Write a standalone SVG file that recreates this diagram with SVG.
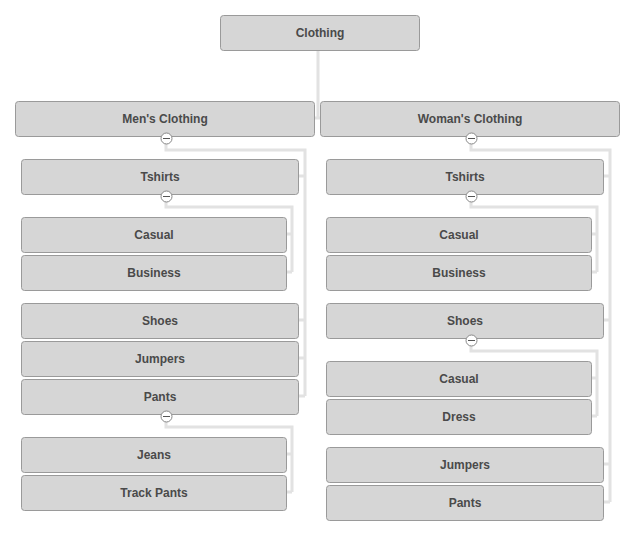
<svg xmlns="http://www.w3.org/2000/svg" width="638" height="541" viewBox="0 0 638 541">
<style>
.n rect{fill:#d6d6d6;stroke:#9a9a9a;stroke-width:1}
.n text{font-family:"Liberation Sans",Arial,sans-serif;font-size:12px;font-weight:bold;fill:#4a4a4a;text-anchor:middle}
.c path{fill:none;stroke:#e2e2e2;stroke-width:3}
.t circle{fill:#fff;stroke:#888;stroke-width:1}
.t path{stroke:#555;stroke-width:1}
</style>
<rect width="638" height="541" fill="#fff"/>
<g class="c">
<path d="M318,50V118H314M318,118H320"/>
<path d="M166,138V150H305V396M298,176H305M298,320H305M298,358H305M298,396H305"/>
<path d="M166,196V207H292V272M286,234H292M286,272H292"/>
<path d="M166,416V427H292V492M286,454H292M286,492H292"/>
<path d="M471,138V150H610V502M603,176H610M603,320H610M603,464H610M603,502H610"/>
<path d="M471,196V207H597V272M591,234H597M591,272H597"/>
<path d="M471,340V351H597V416M591,378H597M591,416H597"/>
</g>
<g class="n" id="clothing"><rect x="220.5" y="15.5" width="199" height="35" rx="3"/><text x="320" y="37">Clothing</text></g>
<g class="n" id="mens"><rect x="15.5" y="101.5" width="299" height="35" rx="3"/><text x="165" y="123">Men's Clothing</text></g>
<g class="n" id="womens"><rect x="320.5" y="101.5" width="299" height="35" rx="3"/><text x="470" y="123">Woman's Clothing</text></g>
<g class="n" id="m-tshirts"><rect x="21.5" y="159.5" width="277" height="35" rx="3"/><text x="160" y="181">Tshirts</text></g>
<g class="n" id="m-casual"><rect x="21.5" y="217.5" width="265" height="35" rx="3"/><text x="154" y="239">Casual</text></g>
<g class="n" id="m-business"><rect x="21.5" y="255.5" width="265" height="35" rx="3"/><text x="154" y="277">Business</text></g>
<g class="n" id="m-shoes"><rect x="21.5" y="303.5" width="277" height="35" rx="3"/><text x="160" y="325">Shoes</text></g>
<g class="n" id="m-jumpers"><rect x="21.5" y="341.5" width="277" height="35" rx="3"/><text x="160" y="363">Jumpers</text></g>
<g class="n" id="m-pants"><rect x="21.5" y="379.5" width="277" height="35" rx="3"/><text x="160" y="401">Pants</text></g>
<g class="n" id="m-jeans"><rect x="21.5" y="437.5" width="265" height="35" rx="3"/><text x="154" y="459">Jeans</text></g>
<g class="n" id="m-track"><rect x="21.5" y="475.5" width="265" height="35" rx="3"/><text x="154" y="497">Track Pants</text></g>
<g class="n" id="w-tshirts"><rect x="326.5" y="159.5" width="277" height="35" rx="3"/><text x="465" y="181">Tshirts</text></g>
<g class="n" id="w-casual"><rect x="326.5" y="217.5" width="265" height="35" rx="3"/><text x="459" y="239">Casual</text></g>
<g class="n" id="w-business"><rect x="326.5" y="255.5" width="265" height="35" rx="3"/><text x="459" y="277">Business</text></g>
<g class="n" id="w-shoes"><rect x="326.5" y="303.5" width="277" height="35" rx="3"/><text x="465" y="325">Shoes</text></g>
<g class="n" id="w-casual2"><rect x="326.5" y="361.5" width="265" height="35" rx="3"/><text x="459" y="383">Casual</text></g>
<g class="n" id="w-dress"><rect x="326.5" y="399.5" width="265" height="35" rx="3"/><text x="459" y="421">Dress</text></g>
<g class="n" id="w-jumpers"><rect x="326.5" y="447.5" width="277" height="35" rx="3"/><text x="465" y="469">Jumpers</text></g>
<g class="n" id="w-pants"><rect x="326.5" y="485.5" width="277" height="35" rx="3"/><text x="465" y="507">Pants</text></g>
<g class="t">
<circle cx="166.5" cy="138.5" r="5.5"/><path d="M163,138.5H170"/>
<circle cx="166.5" cy="196.5" r="5.5"/><path d="M163,196.5H170"/>
<circle cx="166.5" cy="416.5" r="5.5"/><path d="M163,416.5H170"/>
<circle cx="471.5" cy="138.5" r="5.5"/><path d="M468,138.5H475"/>
<circle cx="471.5" cy="196.5" r="5.5"/><path d="M468,196.5H475"/>
<circle cx="471.5" cy="340.5" r="5.5"/><path d="M468,340.5H475"/>
</g>
</svg>
